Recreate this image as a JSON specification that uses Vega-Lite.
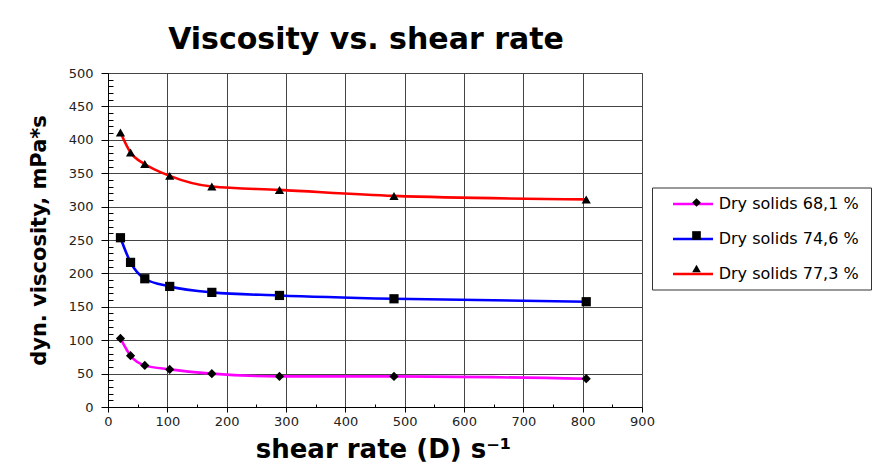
{
  "$schema": "https://vega.github.io/schema/vega-lite/v6.json",
  "width": 534,
  "height": 334,
  "autosize": {"type": "none"},
  "padding": {"left": 108, "top": 73, "right": 243, "bottom": 58},
  "background": "white",
  "title": {
    "text": "Viscosity vs. shear rate",
    "font": "DejaVu Sans",
    "fontSize": 30,
    "fontWeight": "bold",
    "color": "#000000",
    "anchor": "middle",
    "frame": "group",
    "offset": 12,
    "dx": -9
  },
  "config": {
    "view": {"stroke": "#888888"},
    "font": "DejaVu Sans"
  },
  "data": {
    "values": [
      {"series": "Dry solids 68,1 %", "shear": 21, "visc": 102.7},
      {"series": "Dry solids 68,1 %", "shear": 38, "visc": 76.8},
      {"series": "Dry solids 68,1 %", "shear": 62, "visc": 62.3},
      {"series": "Dry solids 68,1 %", "shear": 104, "visc": 56.3},
      {"series": "Dry solids 68,1 %", "shear": 175, "visc": 49.9},
      {"series": "Dry solids 68,1 %", "shear": 289, "visc": 45.8},
      {"series": "Dry solids 68,1 %", "shear": 482, "visc": 45.8},
      {"series": "Dry solids 68,1 %", "shear": 806, "visc": 42.4},
      {"series": "Dry solids 74,6 %", "shear": 21, "visc": 253.4},
      {"series": "Dry solids 74,6 %", "shear": 38, "visc": 216.5},
      {"series": "Dry solids 74,6 %", "shear": 62, "visc": 192},
      {"series": "Dry solids 74,6 %", "shear": 104, "visc": 180.5},
      {"series": "Dry solids 74,6 %", "shear": 175, "visc": 171.6},
      {"series": "Dry solids 74,6 %", "shear": 289, "visc": 167},
      {"series": "Dry solids 74,6 %", "shear": 482, "visc": 162},
      {"series": "Dry solids 74,6 %", "shear": 806, "visc": 157.6},
      {"series": "Dry solids 77,3 %", "shear": 21, "visc": 411},
      {"series": "Dry solids 77,3 %", "shear": 38, "visc": 381},
      {"series": "Dry solids 77,3 %", "shear": 62, "visc": 363.7},
      {"series": "Dry solids 77,3 %", "shear": 104, "visc": 346},
      {"series": "Dry solids 77,3 %", "shear": 175, "visc": 330},
      {"series": "Dry solids 77,3 %", "shear": 289, "visc": 325},
      {"series": "Dry solids 77,3 %", "shear": 482, "visc": 316},
      {"series": "Dry solids 77,3 %", "shear": 806, "visc": 310.8}
    ]
  },
  "encoding": {
    "x": {
      "field": "shear",
      "type": "quantitative",
      "scale": {"domain": [0, 900], "nice": false, "zero": false},
      "axis": {
        "values": [0, 50, 100, 150, 200, 250, 300, 350, 400, 450, 500, 550, 600, 650, 700, 750, 800, 850, 900],
        "labelExpr": "datum.value % 100 === 0 ? datum.label : ''",
        "labelOverlap": false,
        "labelFlush": false,
        "labelBound": false,
        "grid": true,
        "gridColor": "#444444",
        "gridWidth": 1,
        "gridOpacity": {"condition": {"test": "datum.value % 100 === 0", "value": 1}, "value": 0},
        "tickSize": {"condition": {"test": "datum.value % 100 === 0", "value": 5}, "value": -3},
        "tickColor": "#000000",
        "domainColor": "#000000",
        "labelFont": "DejaVu Sans",
        "labelFontSize": 13,
        "labelColor": "#222222",
        "labelPadding": 3,
        "title": "shear rate (D) s⁻¹",
        "titleFont": "DejaVu Sans",
        "titleFontSize": 26,
        "titleFontWeight": "bold",
        "titleColor": "#000000",
        "titleX": 275,
        "titleY": 50,
        "titleAlign": "center",
        "titleBaseline": "alphabetic"
      }
    },
    "y": {
      "field": "visc",
      "type": "quantitative",
      "scale": {"domain": [0, 500], "nice": false},
      "axis": {
        "values": [0, 10, 20, 30, 40, 50, 60, 70, 80, 90, 100, 110, 120, 130, 140, 150, 160, 170, 180, 190, 200, 210, 220, 230, 240, 250, 260, 270, 280, 290, 300, 310, 320, 330, 340, 350, 360, 370, 380, 390, 400, 410, 420, 430, 440, 450, 460, 470, 480, 490, 500],
        "labelExpr": "datum.value % 50 === 0 ? datum.label : ''",
        "labelOverlap": false,
        "labelFlush": false,
        "labelBound": false,
        "grid": true,
        "gridColor": "#444444",
        "gridWidth": 1,
        "gridOpacity": {"condition": {"test": "datum.value % 50 === 0", "value": 1}, "value": 0},
        "tickSize": {"condition": {"test": "datum.value % 50 === 0", "value": 7}, "value": -5},
        "tickColor": "#000000",
        "domainColor": "#000000",
        "labelFont": "DejaVu Sans",
        "labelFontSize": 13,
        "labelColor": "#222222",
        "labelPadding": 8,
        "title": "dyn. viscosity, mPa*s",
        "titleFont": "DejaVu Sans",
        "titleFontSize": 21,
        "titleFontWeight": "bold",
        "titleColor": "#000000",
        "titleX": -68.5,
        "titleY": 167,
        "titleAlign": "center",
        "titleBaseline": "middle"
      }
    }
  },
  "layer": [
    {
      "mark": {"type": "line", "interpolate": "monotone", "strokeWidth": 2.6},
      "encoding": {
        "color": {
          "field": "series",
          "type": "nominal",
          "scale": {
            "domain": ["Dry solids 68,1 %", "Dry solids 74,6 %", "Dry solids 77,3 %"],
            "range": ["#FF00FF", "#0000FF", "#FF0000"]
          },
          "legend": {
            "orient": "none",
            "direction": "vertical",
            "legendX": 544,
            "legendY": 114.5,
            "padding": 7,
            "rowPadding": 17,
            "title": "\u2003\u2003",
            "titleOrient": "right",
            "titleFontSize": 16,
            "symbolType": "M-2.5,0H2.5",
            "symbolSize": 256,
            "symbolStrokeWidth": 2.6,
            "symbolOffset": 24.5,
            "labelOffset": 16.2,
            "labelFont": "DejaVu Sans",
            "labelFontSize": 16,
            "labelColor": "#000000",
            "labelLimit": 400,
            "strokeColor": "#333333"
          }
        }
      }
    },
    {
      "mark": {"type": "point", "filled": true, "color": "#000000", "size": 85, "opacity": 1},
      "encoding": {
        "shape": {
          "field": "series",
          "type": "nominal",
          "scale": {"range": ["diamond", "square", "triangle-up"]},
          "legend": {
            "orient": "none",
            "direction": "vertical",
            "legendX": 544,
            "legendY": 114.5,
            "padding": 7,
            "rowPadding": 17,
            "title": null,
            "symbolSize": 75,
            "symbolFillColor": "#000000",
            "symbolStrokeColor": "#000000",
            "symbolStrokeWidth": 0,
            "symbolOffset": 29.5,
            "labelFont": "DejaVu Sans",
            "labelFontSize": 16,
            "labelOpacity": 0,
            "labelExpr": "''"
          }
        }
      }
    }
  ]
}
